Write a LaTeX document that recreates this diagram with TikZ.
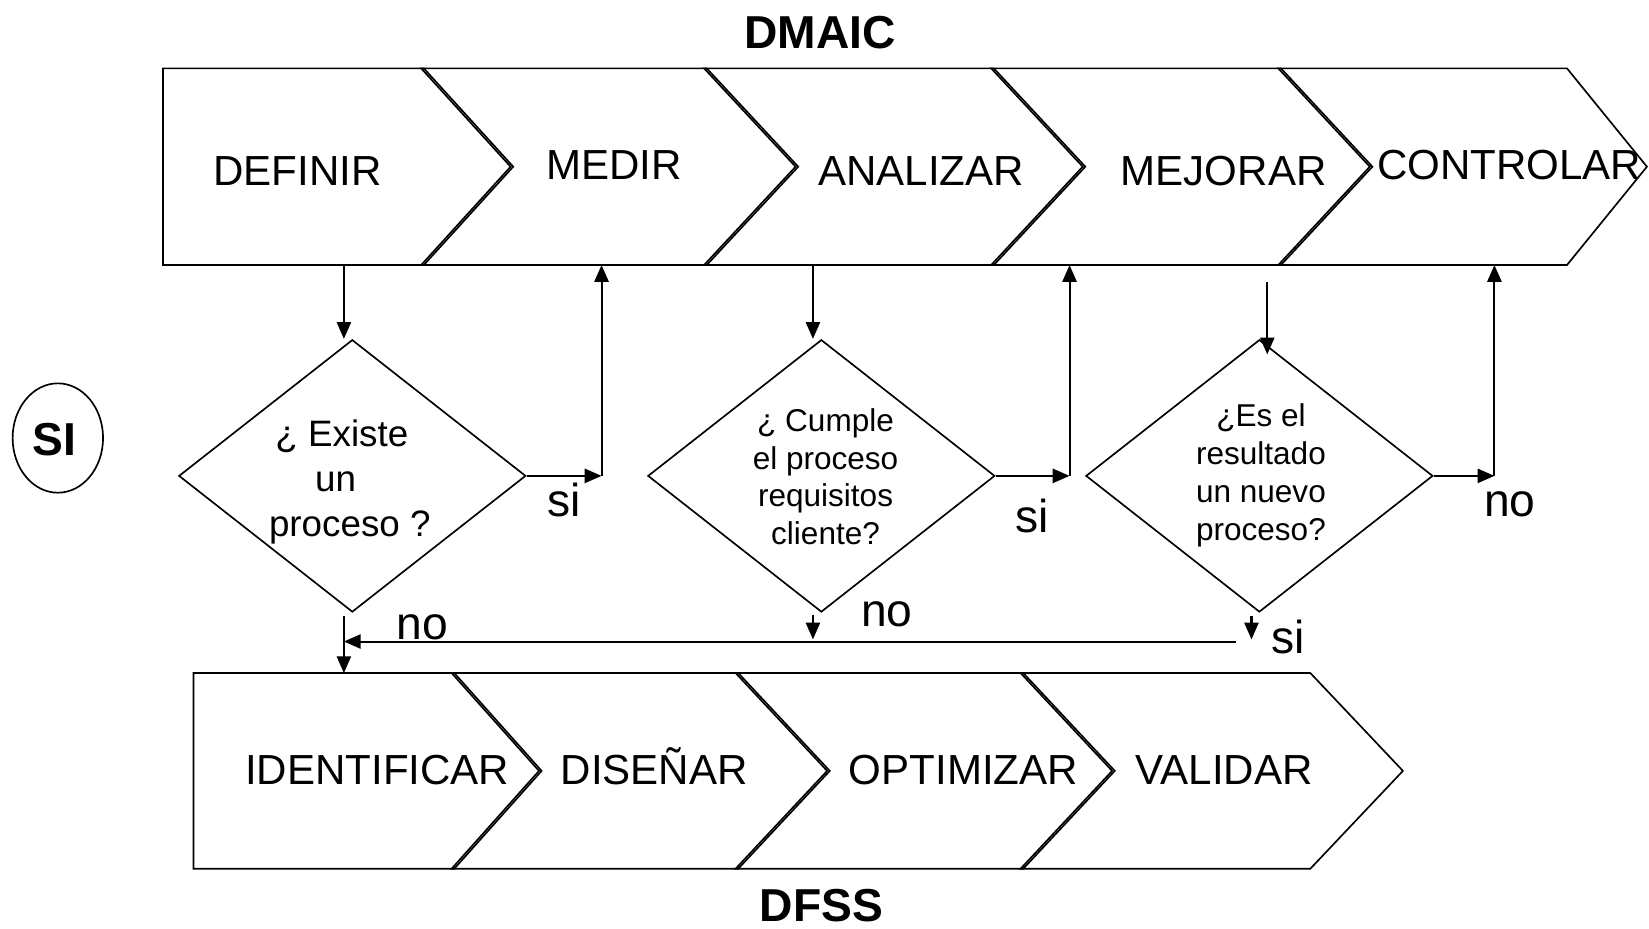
\documentclass[tikz,border=0pt]{standalone}
\usepackage{fontspec}
\setmainfont{Liberation Sans}
\usetikzlibrary{arrows.meta,shapes.geometric}

\newcommand\stagefont{\fontsize{22.76pt}{27pt}\selectfont}
\newcommand\askfontA{\fontsize{19.9pt}{24.2pt}\selectfont}
\newcommand\askfontB{\fontsize{17.07pt}{20.5pt}\selectfont}
\newcommand\tagfont{\fontsize{25pt}{30pt}\selectfont}

\begin{document}
\begin{tikzpicture}[x=0.02cm,y=-0.02cm,
  outline/.style={draw=black, line width=0.9pt, line join=miter},
  stage/.style={anchor=base, inner sep=0pt, font=\stagefont},
  heading/.style={anchor=base, inner sep=0pt, font=\tagfont\bfseries},
  answer/.style={anchor=base west, inner sep=0pt, font=\tagfont},
  decision/.style={diamond, draw, line width=0.9pt, inner sep=0pt,
    minimum width=6.6cm, minimum height=5.18cm},
  question/.style={anchor=base, align=center, inner sep=0pt},
  link/.style={draw, line width=1.1pt, -{Triangle[length=0.32cm,width=0.27cm]}},
]
\useasboundingbox (0,0) rectangle (1568,883);

% ---- DMAIC chevrons ----
\draw[outline] (155,65) -- (403,65) -- (488,158.5) -- (403,252) -- (155,252) -- cycle;
\draw[outline] (400.5,65) -- (672,65) -- (759,158.5) -- (672,252) -- (400.5,252) -- (485.5,158.5) -- cycle;
\draw[outline] (669.5,65) -- (945,65) -- (1032,158.5) -- (945,252) -- (669.5,252) -- (756.5,158.5) -- cycle;
\draw[outline] (942.5,65) -- (1218,65) -- (1305,158.5) -- (1218,252) -- (942.5,252) -- (1029.5,158.5) -- cycle;
\draw[outline] (1215.5,65) -- (1490,65) -- (1566,158.5) -- (1490,252) -- (1215.5,252) -- (1302.5,158.5) -- cycle;

\node[stage] (definir)   at (283,176)    {DEFINIR};
\node[stage] (medir)     at (584,171)    {MEDIR};
\node[stage] (analizar)  at (876,176)    {ANALIZAR};
\node[stage] (mejorar)   at (1163.5,176) {MEJORAR};
\node[stage] (controlar) at (1435,171)   {CONTROLAR};

% ---- DFSS chevrons ----
\draw[outline] (184,640) -- (432,640) -- (515,733) -- (432,826) -- (184,826) -- cycle;
\draw[outline] (429.5,640) -- (702,640) -- (789,733) -- (702,826) -- (429.5,826) -- (512.5,733) -- cycle;
\draw[outline] (699.5,640) -- (973,640) -- (1060,733) -- (973,826) -- (699.5,826) -- (786.5,733) -- cycle;
\draw[outline] (970.5,640) -- (1246,640) -- (1334,733) -- (1246,826) -- (970.5,826) -- (1057.5,733) -- cycle;

\node[stage] (identificar) at (358.7,745.5) {IDENTIFICAR};
\node[stage] (disenar)     at (622,745.5)   {DISEÑAR};
\node[stage] (optimizar)   at (916,745.5)   {OPTIMIZAR};
\node[stage] (validar)     at (1164,745.5)  {VALIDAR};

% ---- headings ----
\node[heading] (dmaic) at (780,46) {DMAIC};
\node[heading] (dfss)  at (781,876) {DFSS};

% ---- SI bubble ----
\node[ellipse, draw, line width=0.9pt, inner sep=0pt,
  minimum width=1.72cm, minimum height=2.08cm] (bubble) at (55,416.5) {};
\node[heading] (bubbletext) at (51.5,433) {SI};

% ---- decisions ----
\node[decision] (d1) at (335,452.5) {};
\node[decision] (d2) at (781,452.5) {};
\node[decision] (d3) at (1197.5,452.5) {};

% multi-line texts: the base anchor sits on the last line
\node[question, font=\askfontA] (q1) at (332.6,509.7)
  {¿ Existe\rule{0.3cm}{0pt}\\un\rule{0.54cm}{0pt}\\proceso ?};
\node[question, font=\askfontB] (q2) at (785,518)
  {¿ Cumple\\el proceso\\requisitos\\cliente?};
\node[question, font=\askfontB] (q3) at (1199,513.5)
  {¿Es el\\resultado\\un nuevo\\proceso?};

% ---- attachment points ----
\coordinate (defout) at (327,252);
\coordinate (medin)  at (572,252);
\coordinate (anaout) at (773,252);
\coordinate (mejin)  at (1017,252);
\coordinate (mejout) at (1205,268);
\coordinate (d3in)   at (1205,337);
\coordinate (conin)  at (1421,252);
\coordinate (idin)   at (327,640);
\coordinate (k1) at (572,452.5);
\coordinate (k2) at (1017,452.5);
\coordinate (k3) at (1421,452.5);
\coordinate (bus) at (1175,610);
\coordinate (d2no)  at (773,608);
\coordinate (d3yes) at (1190,608);

% ---- connectors ----
\draw[link] (defout) -- (defout |- d1.north);
\draw[link] (d1.east) -- (k1);
\draw[link] (k1) -- (medin);
\draw[link, shorten <=0.06cm] (d1.south -| defout) -- (idin);
\draw[link] (bus) -- (bus -| idin);

\draw[link] (anaout) -- (anaout |- d2.north);
\draw[link] (d2.east) -- (k2);
\draw[link] (k2) -- (mejin);
\draw[link, shorten <=0.04cm] (d2.south -| d2no) -- (d2no);

\draw[link] (mejout) -- (d3in);
\draw[link] (d3.east) -- (k3);
\draw[link] (k3) -- (conin);
\draw[link, shorten <=0.05cm] (d3.south -| d3yes) -- (d3yes);

% ---- answers ----
\node[answer] (si1) at (520,491)     {si};
\node[answer] (no1) at (376.5,608)   {no};
\node[answer] (si2) at (965,506)     {si};
\node[answer] (no2) at (818.6,596)   {no};
\node[answer] (no3) at (1411,491.5)  {no};
\node[answer] (si3) at (1208.5,621)  {si};
\end{tikzpicture}
\end{document}
